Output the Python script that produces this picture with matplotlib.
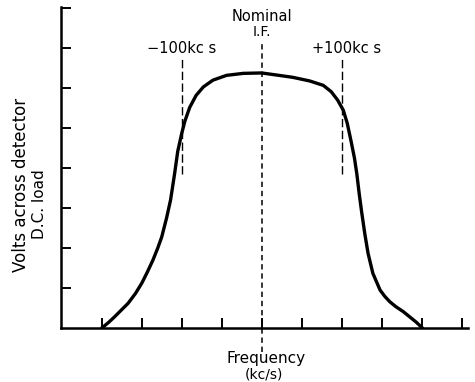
import matplotlib
matplotlib.use("Agg")
import matplotlib.pyplot as plt

# Detector output versus frequency offset from the nominal I.F. (kc/s)
freq_kcs = [-200, -192, -184, -176, -167, -158, -150, -143, -136, -130,
            -125, -119, -114, -109, -105, -100, -96, -90, -82, -73, -61,
            -44, -23, 0, 18, 39, 60, 77, 87, 95, 102, 107, 112, 116, 119,
            122, 125, 129, 133, 139, 148, 154, 160, 168, 177, 185, 193, 201]
volts = [0.0, 0.13, 0.28, 0.44, 0.62, 0.86, 1.12, 1.4, 1.7, 2.0,
         2.28, 2.75, 3.2, 3.85, 4.42, 4.87, 5.18, 5.52, 5.82, 6.03, 6.2,
         6.32, 6.37, 6.38, 6.33, 6.27, 6.18, 6.07, 5.91, 5.7, 5.45, 5.12,
         4.65, 4.25, 3.85, 3.35, 2.9, 2.35, 1.87, 1.37, 0.95, 0.79, 0.66,
         0.53, 0.41, 0.28, 0.15, 0.0]

x_ticks = [-200, -150, -100, -50, 0, 50, 100, 150, 200, 250]
y_ticks = [1, 2, 3, 4, 5, 6, 7, 8]
markers_kcs = [-100, 100]
marker_labels = ["\u2212100kc s", "+100kc s"]

plt.rcParams['font.family'] = ['DejaVu Sans']

fig = plt.figure(figsize=(4.75, 3.82), dpi=100)
ax = fig.add_axes([61 / 475, 1 - 328 / 382, (468 - 61) / 475, (328 - 7) / 382])

ax.plot(freq_kcs, volts, color="black", lw=2.4, solid_joinstyle="round",
        solid_capstyle="round", zorder=3)

# Nominal I.F. centre line, extends above and below the plot area
ax.plot([0, 0], [-0.6, 7.12], color="black", lw=1.1, ls=(0, (3.5, 2.5)),
        clip_on=False, zorder=2)
ax.text(0, 7.8, "Nominal", ha="center", va="center", fontsize=10.5)
ax.text(0, 7.4, "I.F.", ha="center", va="center", fontsize=10)

# +/-100 kc/s markers
for xm, lab in zip(markers_kcs, marker_labels):
    ax.plot([xm, xm], [3.85, 6.72], color="black", lw=1.0, ls=(0, (6, 2.5)),
            zorder=2)
    ax.text(xm + (0 if xm < 0 else 6), 7.0, lab, ha="center", va="center",
            fontsize=10.5)

ax.set_xlim(-251, 258)
ax.set_ylim(0, 8.03)
ax.set_xticks(x_ticks)
ax.set_yticks(y_ticks)
ax.set_xticklabels([])
ax.set_yticklabels([])
ax.tick_params(axis="both", direction="in", length=7, width=1.4, color="black")
for side in ("top", "right"):
    ax.spines[side].set_visible(False)
for side in ("left", "bottom"):
    ax.spines[side].set_linewidth(1.8)
    ax.spines[side].set_color("black")

fig.text(21 / 475, 1 - 185 / 382, "Volts across detector", rotation=90,
         ha="center", va="center", fontsize=12)
fig.text(39 / 475, 1 - 204 / 382, "D.C. load", rotation=90,
         ha="center", va="center", fontsize=11)
fig.text(266 / 475, 1 - 359 / 382, "Frequency", ha="center", va="center",
         fontsize=11)
fig.text(264 / 475, 1 - 374 / 382, "(kc/s)", ha="center", va="center",
         fontsize=10)

fig.savefig("out.png", dpi=100)
